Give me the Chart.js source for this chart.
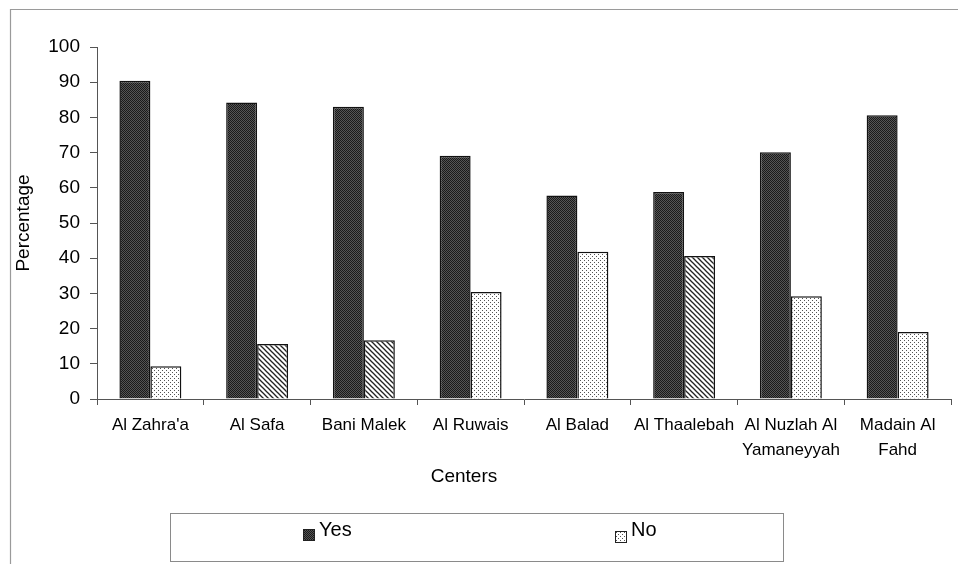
<!DOCTYPE html>
<html>
<head>
<meta charset="utf-8">
<script src="https://cdn.jsdelivr.net/npm/chart.js@4/dist/chart.umd.min.js"></script>
<style>
  html, body { margin: 0; padding: 0; background: #fff; }
  #wrap { position: relative; width: 958px; height: 564px; }
  canvas { display: block; }
</style>
</head>
<body>
<div id="wrap"><canvas id="chart" width="958" height="564"></canvas></div>
<script>
// Share of respondents per health centre
const centers = [
  "Al Zahra'a", "Al Safa", "Bani Malek", "Al Ruwais", "Al Balad",
  "Al Thaalebah", ["Al Nuzlah Al", "Yamaneyyah"], ["Madain Al", "Fahd"]
];
const yesValues = [90.4, 84.2, 83.0, 69.1, 57.8, 58.8, 70.1, 80.6];
const noValues  = [9.3, 15.6, 16.7, 30.4, 41.8, 40.6, 29.2, 19.0];
// which "No" bars use the diagonal hatch instead of dots
const noHatched = [false, true, true, false, false, true, false, false];
const yTicks = [0, 10, 20, 30, 40, 50, 60, 70, 80, 90, 100];

const FONT = "'Liberation Sans', Arial, sans-serif";

function makeTile(w, h, draw) {
  const c = document.createElement('canvas');
  c.width = w; c.height = h;
  const g = c.getContext('2d');
  draw(g);
  return document.createElement('canvas').getContext('2d').createPattern(c, 'repeat');
}

// dark checker fill
const darkFill = makeTile(2, 2, g => {
  g.fillStyle = '#555555'; g.fillRect(0, 0, 2, 2);
  g.fillStyle = '#1a1a1a'; g.fillRect(0, 0, 1, 1); g.fillRect(1, 1, 1, 1);
});
// light dotted fill
const dotFill = makeTile(4, 4, g => {
  g.fillStyle = '#ffffff'; g.fillRect(0, 0, 4, 4);
  g.fillStyle = '#555555'; g.fillRect(0, 0, 1, 1); g.fillRect(2, 2, 1, 1);
});
// diagonal hatch fill
const hatchFill = makeTile(5, 5, g => {
  g.fillStyle = '#ffffff'; g.fillRect(0, 0, 5, 5);
  g.strokeStyle = '#222'; g.lineWidth = 1.3;
  for (const o of [-5, 0, 5]) {
    g.beginPath(); g.moveTo(o - 1, -1); g.lineTo(o + 6, 6); g.stroke();
  }
});

const noFills = noHatched.map(h => h ? hatchFill : dotFill);

// frame, x-axis title and boxed legend
const decor = {
  id: 'decor',
  afterDraw(chart) {
    const ctx = chart.ctx;
    ctx.save();
    ctx.strokeStyle = '#9a9a9a';
    ctx.lineWidth = 1.2;
    ctx.beginPath();
    ctx.moveTo(10.5, 564); ctx.lineTo(10.5, 9.5); ctx.lineTo(958, 9.5);
    ctx.stroke();

    ctx.fillStyle = '#000';
    ctx.font = '19px ' + FONT;
    ctx.textAlign = 'center';
    ctx.textBaseline = 'alphabetic';
    ctx.fillText('Centers', 464, 482);

    // legend box
    ctx.strokeStyle = '#8a8a8a';
    ctx.lineWidth = 1;
    ctx.strokeRect(170.5, 513.5, 613, 48);
    const items = [
      { x: 303, y: 529, fill: darkFill, text: chart.data.datasets[0].label },
      { x: 615, y: 531, fill: dotFill, text: chart.data.datasets[1].label }
    ];
    ctx.font = '20px ' + FONT;
    ctx.textAlign = 'left';
    for (const it of items) {
      ctx.fillStyle = it.fill;
      ctx.fillRect(it.x, it.y, 12, 12);
      ctx.strokeStyle = '#222';
      ctx.strokeRect(it.x + 0.5, it.y + 0.5, 11, 11);
      ctx.fillStyle = '#000';
      ctx.fillText(it.text, it.x + 16, 536);
    }
    ctx.restore();
  }
};

new Chart(document.getElementById('chart'), {
  type: 'bar',
  data: {
    labels: centers,
    datasets: [
      { label: 'Yes', data: yesValues, backgroundColor: darkFill,
        borderColor: '#111', borderWidth: 1.5 },
      { label: 'No', data: noValues, backgroundColor: noFills,
        borderColor: '#111', borderWidth: 1.5 }
    ]
  },
  options: {
    responsive: false,
    devicePixelRatio: 1,
    animation: false,
    layout: { padding: { left: 0, right: 7, top: 47, bottom: 0 } },
    datasets: { bar: { categoryPercentage: 0.58, barPercentage: 1 } },
    plugins: { legend: { display: false }, tooltip: { enabled: false } },
    scales: {
      x: {
        grid: { display: true, offset: true, drawOnChartArea: false,
                drawTicks: true, tickLength: 6, color: '#555', lineWidth: 1 },
        border: { display: true, color: '#555', width: 1 },
        ticks: { color: '#000', font: { family: FONT, size: 17, lineHeight: 1.47 },
                 padding: 8, maxRotation: 0, autoSkip: false },
        afterFit(s) { s.height = 165; s.paddingLeft = 0; s.paddingRight = 0; }
      },
      y: {
        min: 0, max: 100,
        afterBuildTicks(s) { s.ticks = yTicks.map(v => ({ value: v })); },
        grid: { display: true, drawOnChartArea: false, drawTicks: true,
                tickLength: 7, color: '#555', lineWidth: 1 },
        border: { display: true, color: '#555', width: 1 },
        ticks: { color: '#000', font: { family: FONT, size: 19 }, padding: 10 },
        title: { display: true, text: 'Percentage', color: '#000',
                 font: { family: FONT, size: 19 }, padding: { top: 12, bottom: 0 } },
        afterFit(s) { s.width = 97; s.paddingTop = 0; s.paddingBottom = 0; }
      }
    }
  },
  plugins: [decor]
});
</script>
</body>
</html>
